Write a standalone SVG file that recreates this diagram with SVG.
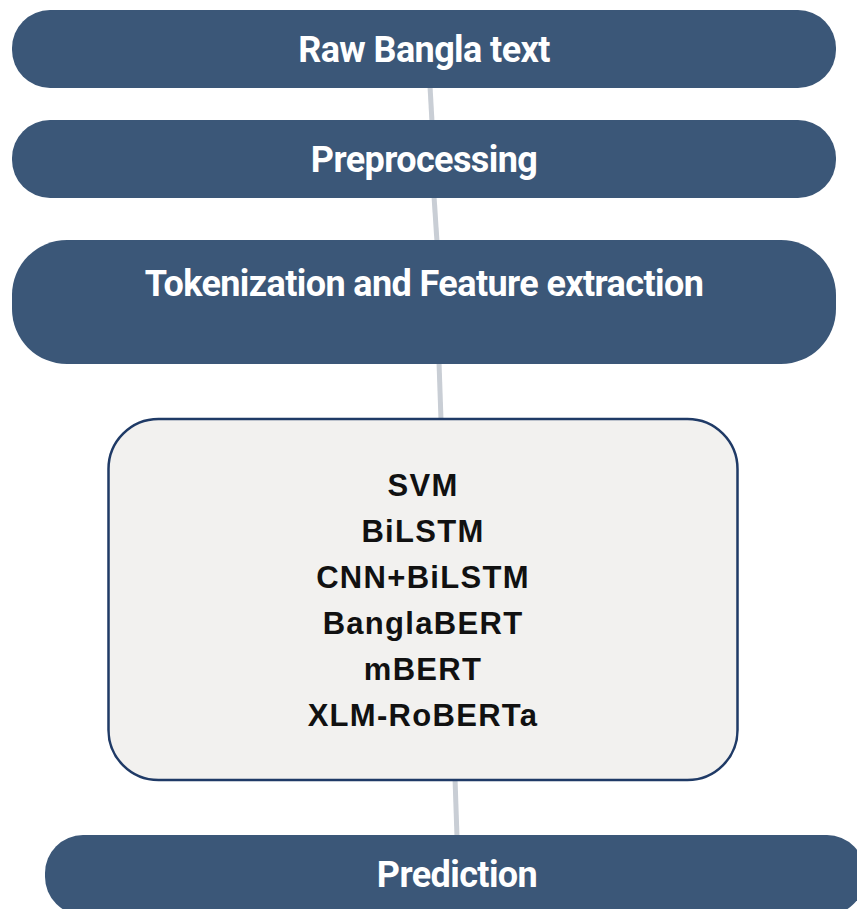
<svg xmlns="http://www.w3.org/2000/svg" width="857" height="909" viewBox="0 0 857 909">
<style>
.pill{fill:#3b5778;}
.ht{font-family:Roboto,"Liberation Sans",sans-serif;font-weight:700;fill:#ffffff;text-anchor:middle;font-size:36px;letter-spacing:-0.6px;}
.mt{font-family:"Liberation Sans",Arial,sans-serif;font-weight:700;fill:#111111;text-anchor:middle;font-size:31px;letter-spacing:1.3px;}
.conn{stroke:#c9ced5;stroke-width:5;fill:none;}
</style>
<rect width="857" height="909" fill="#ffffff"/>
<g id="connectors">
<line class="conn" x1="430" y1="86" x2="432" y2="122"/>
<line class="conn" x1="434" y1="196" x2="437" y2="242"/>
<line class="conn" x1="439" y1="362" x2="441" y2="420"/>
<line class="conn" x1="455" y1="778" x2="457" y2="837"/>
</g>
<g id="raw">
<rect class="pill" x="12" y="10" width="824" height="78" rx="38" ry="38"/>
<text class="ht" x="424" y="62">Raw Bangla text</text>
</g>
<g id="preprocessing">
<rect class="pill" x="12" y="120" width="824" height="78" rx="38" ry="38"/>
<text class="ht" x="424" y="172">Preprocessing</text>
</g>
<g id="tokenization">
<rect class="pill" x="12" y="240" width="824" height="124" rx="55" ry="55"/>
<text class="ht" x="424" y="296">Tokenization and Feature extraction</text>
</g>
<g id="models">
<rect x="108.5" y="419" width="629" height="361" rx="50" ry="50" fill="#f2f1ef" stroke="#1f3a66" stroke-width="2.5"/>
<text class="mt" x="423" y="496">SVM</text>
<text class="mt" x="423" y="542">BiLSTM</text>
<text class="mt" x="423" y="588">CNN+BiLSTM</text>
<text class="mt" x="423" y="634">BanglaBERT</text>
<text class="mt" x="423" y="680">mBERT</text>
<text class="mt" x="423" y="726">XLM-RoBERTa</text>
</g>
<g id="prediction">
<rect class="pill" x="45" y="835" width="820" height="80" rx="38" ry="38"/>
<text class="ht" x="457" y="887">Prediction</text>
</g>
</svg>
